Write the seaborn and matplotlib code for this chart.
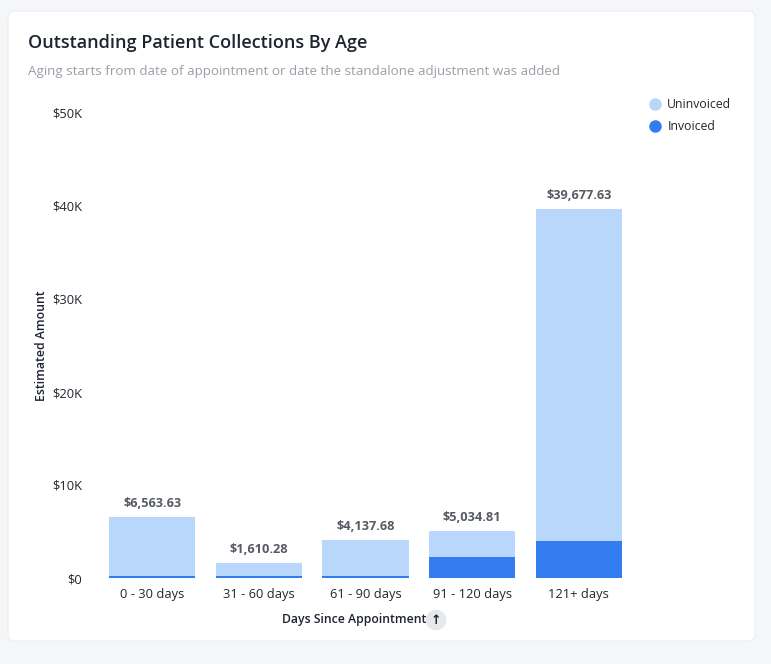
import matplotlib
matplotlib.use("Agg")
import matplotlib.pyplot as plt
import seaborn as sns
import pandas as pd
from matplotlib.patches import FancyBboxPatch
from matplotlib.lines import Line2D
from matplotlib.ticker import FuncFormatter

buckets = ["0 - 30 days", "31 - 60 days", "61 - 90 days", "91 - 120 days", "121+ days"]
totals = [6563.63, 1610.28, 4137.68, 5034.81, 39677.63]
invoiced = [200, 200, 200, 2250, 3980]
y_ticks = [0, 10000, 20000, 30000, 40000, 50000]

light = "#b8d7fb"
dark = "#347df0"

df = pd.DataFrame({"bucket": buckets, "total": totals, "invoiced": invoiced})

sns.set_theme(style="white")
plt.rcParams["font.family"] = ["Open Sans", "DejaVu Sans"]

W, H = 771, 664
fig = plt.figure(figsize=(W / 100, H / 100), dpi=100)
fig.patch.set_facecolor("#f5f6f8")

# white card behind everything
card = FancyBboxPatch((8 / W, 1 - 641 / H), (755 - 8) / W, (641 - 11) / H,
                      boxstyle="round,pad=0,rounding_size=0.01",
                      transform=fig.transFigure, facecolor="white",
                      edgecolor="#eceef1", linewidth=0.8, zorder=-10)
fig.patches.append(card)

fig.text(28 / W, 1 - 43 / H, "Outstanding Patient Collections By Age",
         fontsize=13, fontweight="semibold", color="#1d2330", va="center")
fig.text(28 / W, 1 - 72 / H,
         "Aging starts from date of appointment or date the standalone adjustment was added",
         fontsize=9.6, color="#9a9ea6", va="center")

ax = fig.add_axes([99 / W, 1 - 578 / H, 533 / W, (578 - 113) / H])
ax.set_facecolor("none")

sns.barplot(data=df, x="bucket", y="total", color=light, width=0.81,
            saturation=1, linewidth=0, ax=ax)
sns.barplot(data=df, x="bucket", y="invoiced", color=dark, width=0.81,
            saturation=1, linewidth=0, ax=ax)

for i, t in enumerate(totals):
    ax.annotate(f"${t:,.2f}", (i, t), xytext=(0, 5), textcoords="offset points",
                ha="center", va="bottom", fontsize=9.2, fontweight="bold",
                color="#555a63")

ax.set_ylim(0, 50000)
ax.set_yticks(y_ticks)
ax.yaxis.set_major_formatter(FuncFormatter(lambda v, p: f"${int(v / 1000)}K" if v else "$0"))
ax.tick_params(axis="both", length=0, labelsize=9.3, colors="#22262e")
ax.tick_params(axis="y", pad=12)
ax.tick_params(axis="x", pad=7)
sns.despine(ax=ax, left=True, bottom=True)
ax.set_xlim(-0.5, 4.5)

ax.set_ylabel("Estimated Amount", fontsize=8.8, fontweight="semibold", color="#1d2330")
ax.yaxis.set_label_coords(-(99 - 42) / 533, 0.5)
ax.yaxis.label.set_va("center")
ax.set_xlabel("Days Since Appointment", fontsize=8.8, fontweight="semibold", color="#1d2330")
ax.xaxis.set_label_coords((354 - 99) / 533, -(620 - 578) / (578 - 113))
ax.xaxis.label.set_va("center")
fig.text(436 / W, 1 - 620 / H, "\u2191", fontsize=9, fontweight="bold", color="#1d2330",
         ha="center", va="center",
         bbox=dict(boxstyle="circle,pad=0.3", facecolor="#e6e8ec", edgecolor="none"))

handles = [Line2D([], [], marker="o", linestyle="", markersize=8, color=light),
           Line2D([], [], marker="o", linestyle="", markersize=8, color=dark)]
fig.legend(handles, ["Uninvoiced", "Invoiced"], loc="upper left",
           bbox_to_anchor=(638 / W, 1 - 87 / H), frameon=False, fontsize=8.8,
           handletextpad=0.5, labelspacing=0.75, handlelength=1.0)

fig.savefig("out.png", dpi=100, facecolor=fig.get_facecolor())
